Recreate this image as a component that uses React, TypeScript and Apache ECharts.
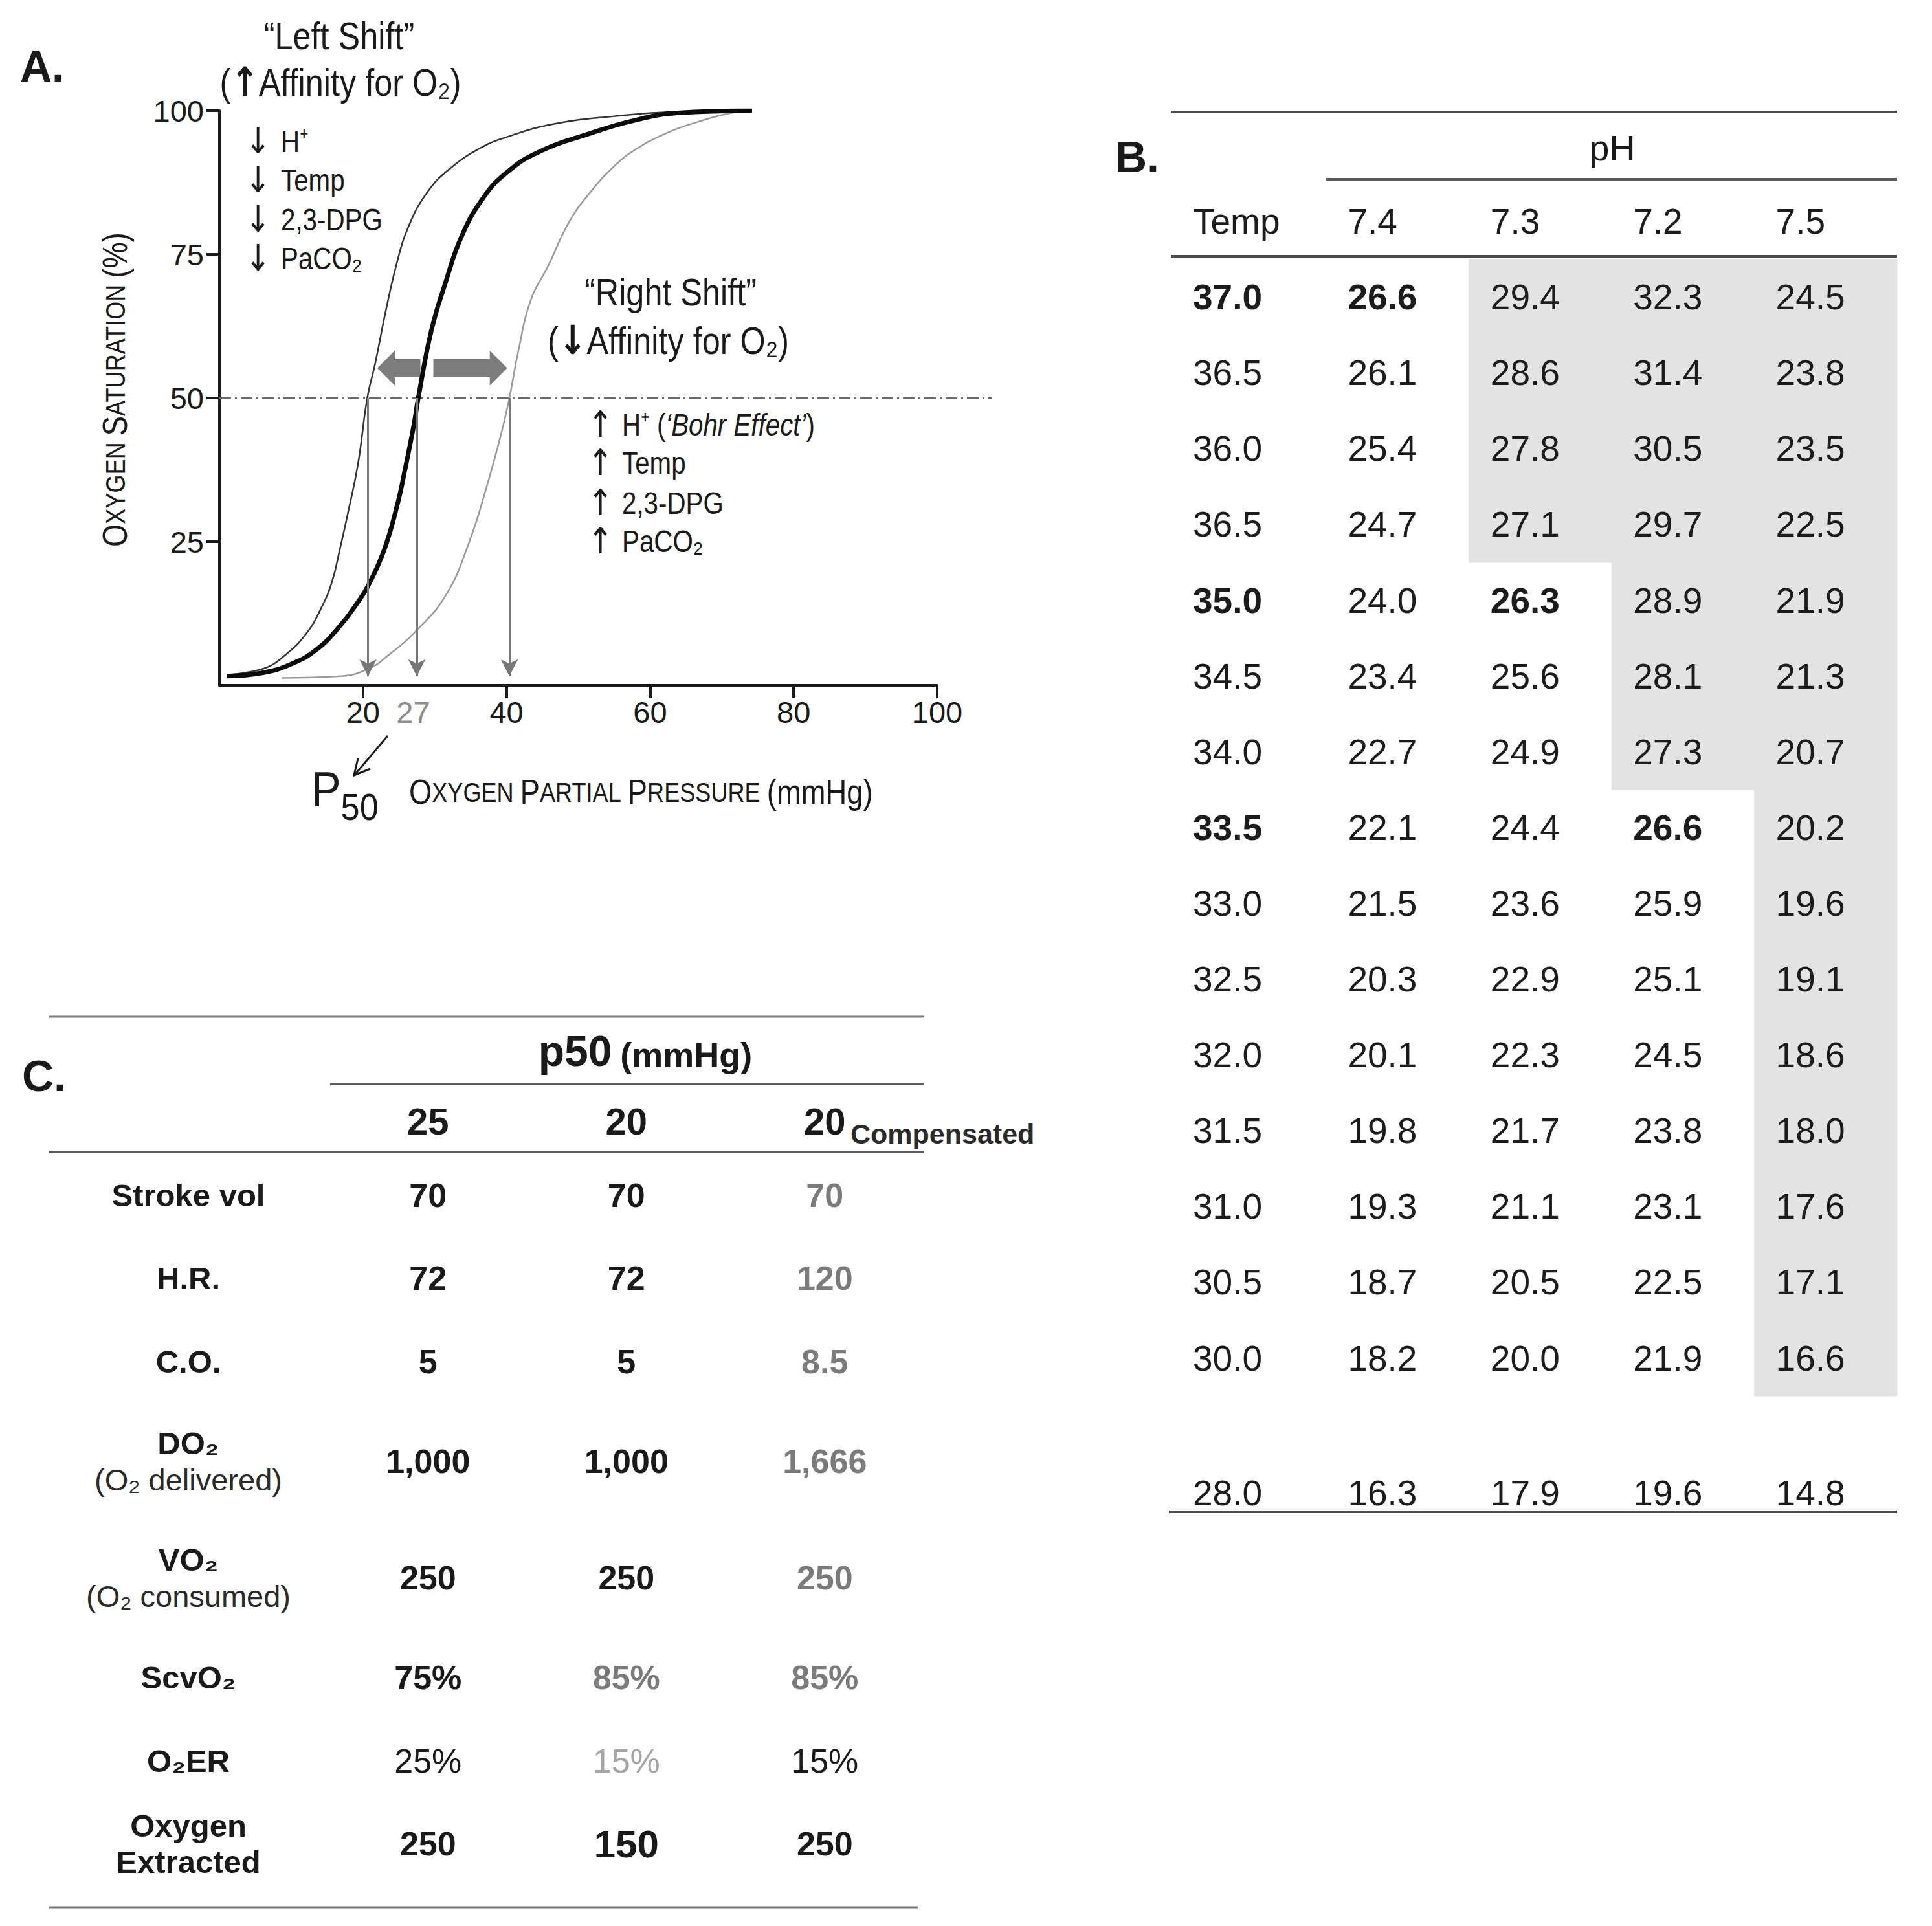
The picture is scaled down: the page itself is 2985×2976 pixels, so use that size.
import React, { useEffect, useRef } from 'react';
import * as echarts from 'echarts';

// ---------- Panel A : oxygen dissociation curves ----------
const normalPO2 = [1.0, 6.1, 10.0, 13.6, 16.9, 19.3, 20.7, 22.9, 24.7, 25.9, 27.1, 27.7, 29.5, 31.4, 33.8, 36.8, 39.8, 44.3, 51.8, 57.8, 63.8, 74.2];
const normalSat = [1.6, 2.2, 3.7, 6.3, 10.5, 14.5, 17.3, 23.4, 31.0, 37.8, 45.4, 50.0, 61.6, 69.7, 78.3, 84.9, 89.0, 92.7, 96.1, 98.3, 99.6, 100];
const leftPO2 = [1.0, 6.1, 9.1, 12.1, 14.2, 15.7, 16.8, 17.8, 19.3, 20.6, 21.7, 23.2, 24.7, 26.2, 28.9, 32.3, 36.8, 39.8, 45.8, 54.8, 63.8, 74.2];
const leftSat = [1.85, 2.9, 5.2, 9.0, 13.5, 18.1, 23.8, 29.4, 38.5, 50.0, 56.0, 65.3, 73.4, 79.4, 85.7, 90.1, 93.8, 95.3, 97.5, 99.0, 99.8, 100];
const rightPO2 = [8.7, 16.9, 20.8, 23.5, 27.5, 31.6, 34.7, 37.1, 39.2, 40.4, 41.6, 43.4, 45.8, 48.8, 51.8, 54.8, 57.8, 62.3, 66.8, 71.3, 74.2];
const rightSat = [1.3, 1.6, 2.9, 5.2, 9.6, 15.8, 24.6, 34.0, 43.5, 50.0, 57.9, 67.1, 73.0, 80.8, 86.0, 90.1, 93.1, 96.1, 98.1, 99.6, 100];
const p50DropLines = [20.7, 27.5, 40.4];
const p50Level = 50;
const dropLineEnd = 1.6;
const halfLineEndPO2 = 107.6;
const shiftLeftArrow = [28.0, 22.0];
const shiftRightArrow = [29.8, 40.1];
const shiftArrowSat = 55.2;
const xTickValues = [20, 40, 60, 80, 100];
const xLabelValues = [20, 27, 40, 60, 80, 100];
const yTickValues = [25, 50, 75, 100];
const leftShiftFactors = ['H⁺', 'Temp', '2,3-DPG', 'PaCO₂'];
const rightShiftFactors = ['H⁺', 'Temp', '2,3-DPG', 'PaCO₂'];

// ---------- Panel B : p50 by temperature and pH ----------
const tempLevels = ['37.0', '36.5', '36.0', '36.5', '35.0', '34.5', '34.0', '33.5', '33.0', '32.5', '32.0', '31.5', '31.0', '30.5', '30.0', '28.0'];
const pHLevels = ['7.4', '7.3', '7.2', '7.5'];
const p50pH74 = ['26.6', '26.1', '25.4', '24.7', '24.0', '23.4', '22.7', '22.1', '21.5', '20.3', '20.1', '19.8', '19.3', '18.7', '18.2', '16.3'];
const p50pH73 = ['29.4', '28.6', '27.8', '27.1', '26.3', '25.6', '24.9', '24.4', '23.6', '22.9', '22.3', '21.7', '21.1', '20.5', '20.0', '17.9'];
const p50pH72 = ['32.3', '31.4', '30.5', '29.7', '28.9', '28.1', '27.3', '26.6', '25.9', '25.1', '24.5', '23.8', '23.1', '22.5', '21.9', '19.6'];
const p50pH75 = ['24.5', '23.8', '23.5', '22.5', '21.9', '21.3', '20.7', '20.2', '19.6', '19.1', '18.6', '18.0', '17.6', '17.1', '16.6', '14.8'];
const shadedRowCount = [0, 4, 7, 15];
const boldTempRows = [0, 4, 7];
const boldCells = [[0, 0], [4, 1], [7, 2]];

// ---------- Panel C : oxygen delivery at p50 ----------
const p50Columns = ['25', '20', '20'];
const paramLabels = ['Stroke vol', 'H.R.', 'C.O.', 'DO₂', 'VO₂', 'ScvO₂', 'O₂ER', 'Oxygen\nExtracted'];
const paramNotes = ['', '', '', '(O₂ delivered)', '(O₂ consumed)', '', '', ''];
const valuesP50_25 = ['70', '72', '5', '1,000', '250', '75%', '25%', '250'];
const valuesP50_20 = ['70', '72', '5', '1,000', '250', '85%', '15%', '150'];
const valuesP50_20c = ['70', '120', '8.5', '1,666', '250', '85%', '15%', '250'];
const tonesP50_25 = [0, 0, 0, 0, 0, 0, 0, 0];
const tonesP50_20 = [0, 0, 0, 0, 0, 1, 2, 0];
const tonesP50_20c = [1, 1, 1, 1, 1, 1, 0, 0];
const regularRows = [6];
const enlargedCells = [[1, 7]];

const FN = "'Liberation Sans',Arial,Helvetica,sans-serif";
const FA = "'Liberation Sans',Arial,Helvetica,sans-serif";
const NARROW = 0.84;
const INK = '#1a1a1a';
const TONES = [INK, '#7b7b7b', '#a6a6a6'];

function txt(text: string, x: number, y: number, o: any = {}) {
  return {
    type: 'text', x, y, silent: true, rotation: o.rotation || 0,
    scaleX: o.sx || 1, scaleY: o.sy || 1,
    style: {
      text, fill: o.fill || INK, fontSize: o.size || 46, fontFamily: o.family || FN,
      fontWeight: o.weight || 'normal', fontStyle: o.italic ? 'italic' : 'normal',
      align: o.align || 'left', verticalAlign: o.valign || 'middle',
      textAlign: o.align || 'left', textVerticalAlign: o.valign || 'middle',
      rich: o.rich,
    },
  };
}
function rule(x1: number, x2: number, y: number, w: number, c: string) {
  return { type: 'line', silent: true, shape: { x1, y1: y, x2, y2: y }, style: { stroke: c, lineWidth: w } };
}
function rs(size: number, family: string, weight = 'normal', fill = INK, extra: any = {}) {
  return { fontSize: size, fontFamily: family, fontWeight: weight, fill, color: fill, ...extra };
}

// row heights of table C follow the number of text lines of each row label
const rowWeightC = paramNotes.map((n) => (n ? 1.4 : 1));
const rowCenterC = rowWeightC.map((w, i) => rowWeightC.slice(0, i).reduce((s, v) => s + v, 0) + w / 2);
const rowSpanC = rowWeightC.reduce((s, v) => s + v, 0);

function buildOption(): any {
  const cellsB: any[] = [];
  const shadeB: any[] = [];
  const cols = [p50pH74, p50pH73, p50pH72, p50pH75];
  const rowOf = (i: number) => (i < 15 ? i + 1 : 17);
  cellsB.push({ c: 0, r: 0, t: 'Temp', b: false });
  pHLevels.forEach((p, j) => cellsB.push({ c: j + 1, r: 0, t: p, b: false }));
  tempLevels.forEach((t, i) => {
    cellsB.push({ c: 0, r: rowOf(i), t, b: boldTempRows.includes(i), last: i === 15 });
    cols.forEach((arr, j) => {
      const bold = boldCells.some(([r, c]) => r === i && c === j);
      cellsB.push({ c: j + 1, r: rowOf(i), t: arr[i], b: bold, last: i === 15 });
      if (i < shadedRowCount[j]) shadeB.push([j + 1, rowOf(i)]);
    });
  });
  const rowKeysB = Array.from({ length: 18 }, (_, i) => 'r' + i);

  const colsC = [valuesP50_25, valuesP50_20, valuesP50_20c];
  const tonesC = [tonesP50_25, tonesP50_20, tonesP50_20c];
  const cellsC: any[] = [];
  colsC.forEach((arr, j) => arr.forEach((v, i) => cellsC.push({
    c: j, r: i, t: v, tone: tonesC[j][i], regular: regularRows.includes(i),
    big: enlargedCells.some(([c, r]) => c === j && r === i),
  })));

  const axisLine = { show: true, onZero: false, lineStyle: { color: INK, width: 4 } };
  const hidden = { show: false };

  return {
    animation: false,
    backgroundColor: '#ffffff',
    textStyle: { fontFamily: FA },
    grid: [
      { left: 339, top: 171, width: 1109, height: 888 },
      { left: 1829, top: 283.5, width: 1102, height: 2107.8 },
      { left: 508, top: 1782.7, width: 919.5, height: rowSpanC * 128.5 },
    ],
    xAxis: [
      {
        type: 'value', gridIndex: 0, min: 0, max: 100, axisLine,
        axisTick: { show: true, customValues: xTickValues, length: 20, lineStyle: { color: INK, width: 4 } },
        axisLabel: {
          customValues: xLabelValues, margin: 18, fontSize: 47, fontFamily: FN,
          color: (v: any) => (Number(v) === 27 ? '#8c8c8c' : INK),
        },
        splitLine: hidden,
      },
      { type: 'category', gridIndex: 1, data: ['Temp', ...pHLevels], show: false },
      {
        type: 'category', gridIndex: 2, data: ['p25', 'p20', 'p20c'], position: 'top',
        axisLine: hidden, axisTick: hidden, splitLine: hidden,
        axisLabel: {
          margin: 20, fontSize: 58, fontWeight: 'bold', fontFamily: FA, color: INK, lineHeight: 60,
          formatter: (_v: any, i: number) => p50Columns[i],
        },
      },
    ],
    yAxis: [
      {
        type: 'value', gridIndex: 0, min: 0, max: 100, axisLine,
        axisTick: { show: true, customValues: yTickValues, length: 20, lineStyle: { color: INK, width: 4 } },
        axisLabel: { customValues: yTickValues, margin: 24, fontSize: 47, fontFamily: FN, color: INK },
        splitLine: hidden,
      },
      { type: 'category', gridIndex: 1, data: rowKeysB, inverse: true, show: false },
      {
        type: 'value', gridIndex: 2, min: 0, max: rowSpanC, inverse: true,
        axisLine: hidden, axisTick: hidden, splitLine: hidden,
        axisLabel: {
          customValues: rowCenterC, align: 'center', margin: 217,
          formatter: (v: any) => {
            const i = rowCenterC.findIndex((c) => Math.abs(c - Number(v)) < 1e-6);
            if (i < 0) return '';
            const lines = paramLabels[i].split('\n').map((l) => '{b|' + l + '}');
            if (paramNotes[i]) lines.push('{r|' + paramNotes[i] + '}');
            return lines.join('\n');
          },
          rich: {
            b: { fontSize: 49, fontWeight: 'bold', fontFamily: FA, color: INK, lineHeight: 56 },
            r: { fontSize: 47, fontFamily: FA, color: '#2a2a2a', lineHeight: 56 },
          },
        },
      },
    ],
    series: [
      {
        type: 'line', xAxisIndex: 0, yAxisIndex: 0, name: 'left shift',
        data: leftPO2.map((x, i) => [x, leftSat[i]]), smooth: 0.45,
        showSymbol: false, symbol: 'none', lineStyle: { color: '#333333', width: 2.5 }, z: 3,
      },
      {
        type: 'line', xAxisIndex: 0, yAxisIndex: 0, name: 'right shift',
        data: rightPO2.map((x, i) => [x, rightSat[i]]), smooth: 0.45,
        showSymbol: false, symbol: 'none', lineStyle: { color: '#9a9a9a', width: 2.5 }, z: 3,
      },
      {
        type: 'line', xAxisIndex: 0, yAxisIndex: 0, name: 'normal',
        data: normalPO2.map((x, i) => [x, normalSat[i]]), smooth: 0.45,
        showSymbol: false, symbol: 'none', lineStyle: { color: '#0a0a0a', width: 7 }, z: 4,
        markLine: {
          silent: true, symbol: ['none', 'arrow'], symbolSize: [20, 26], precision: 2,
          label: { show: false },
          lineStyle: { color: '#777777', width: 3, type: 'solid' },
          data: p50DropLines.map((x) => [{ coord: [x, p50Level] }, { coord: [x, dropLineEnd] }]),
          z: 6,
        },
      },
      {
        type: 'custom', xAxisIndex: 1, yAxisIndex: 1, name: 'shading', z: 1,
        data: shadeB,
        renderItem: (_p: any, api: any) => {
          const pt = api.coord([api.value(0), api.value(1)]);
          const sz = api.size([1, 1]);
          return {
            type: 'rect',
            shape: { x: pt[0] - sz[0] / 2 - 0.5, y: pt[1] - sz[1] / 2 - 0.5, width: sz[0] + 1, height: sz[1] + 1 },
            style: { fill: '#e3e3e3' },
          };
        },
      },
      {
        type: 'custom', xAxisIndex: 1, yAxisIndex: 1, name: 'p50 table', z: 2,
        data: cellsB.map((c) => [c.c, c.r]),
        renderItem: (p: any, api: any) => {
          const cell = cellsB[p.dataIndex];
          const pt = api.coord([api.value(0), api.value(1)]);
          const sz = api.size([1, 1]);
          const left = pt[0] - sz[0] / 2 + (cell.c === 0 ? 14 : 33);
          return {
            type: 'text', x: left, y: pt[1] + (cell.last ? -26 : 0),
            style: {
              text: cell.t, fontSize: 55, fontFamily: FA, fontWeight: cell.b ? 'bold' : 'normal', fill: '#1c1c1c',
              align: 'left', verticalAlign: 'middle', textAlign: 'left', textVerticalAlign: 'middle',
            },
          };
        },
      },
      {
        type: 'custom', xAxisIndex: 2, yAxisIndex: 2, name: 'delivery table', z: 2,
        data: cellsC.map((c) => [c.c, rowCenterC[c.r]]),
        renderItem: (p: any, api: any) => {
          const cell = cellsC[p.dataIndex];
          const pt = api.coord([api.value(0), api.value(1)]);
          return {
            type: 'text', x: pt[0], y: pt[1],
            style: {
              text: cell.t, fontSize: cell.big ? 60 : 52, fontFamily: FA,
              fontWeight: cell.regular ? 'normal' : 'bold', fill: TONES[cell.tone],
              align: 'center', verticalAlign: 'middle', textAlign: 'center', textVerticalAlign: 'middle',
            },
          };
        },
      },
    ],
  };
}

function buildGraphic(chart: any): any[] {
  const g: any[] = [];
  const px = (x: number, y: number) => chart.convertToPixel({ seriesIndex: 0 }, [x, y]);

  // dash-dot 50% line
  const a = px(0, p50Level), b = px(halfLineEndPO2, p50Level);
  g.push({ type: 'line', silent: true, z: 1, shape: { x1: a[0], y1: a[1], x2: b[0], y2: b[1] }, style: { stroke: '#6a6a6a', lineWidth: 2, lineDash: [18, 6, 3, 6] } });

  // shift block arrows
  const blockArrow = (fromX: number, toX: number, y: number) => {
    const s = px(fromX, y), t = px(toX, y);
    const d = Math.sign(t[0] - s[0]);
    const bx = t[0] - d * 27;
    return {
      type: 'polygon', silent: true,
      shape: { points: [[s[0], s[1] - 14], [bx, s[1] - 14], [bx, s[1] - 27], [t[0], s[1]], [bx, s[1] + 27], [bx, s[1] + 14], [s[0], s[1] + 14]] },
      style: { fill: '#7c7c7c' },
    };
  };
  g.push(blockArrow(shiftLeftArrow[0], shiftLeftArrow[1], shiftArrowSat));
  g.push(blockArrow(shiftRightArrow[0], shiftRightArrow[1], shiftArrowSat));

  // ----- Panel A texts -----
  const N = NARROW;
  g.push(txt('A.', 31, 102, { size: 68, weight: 'bold', family: FA }));
  g.push(txt('“Left Shift”', 524, 55, { size: 60, align: 'center', sx: N }));
  g.push(txt('{p|(}{ar|↑}{p|Affinity for O₂)}', 526, 127, {
    align: 'center', sx: N, rich: { p: rs(60, FN), ar: rs(62, 'DejaVu Sans', 'bold') },
  }));
  const leftRows = [218, 278, 339, 399];
  leftShiftFactors.forEach((f, i) => {
    g.push(txt('↓', 379, leftRows[i], { size: 56, family: 'DejaVu Sans', sx: N }));
    g.push(txt(f, 434, leftRows[i], { size: 48, sx: N }));
  });
  g.push(txt('“Right Shift”', 1036, 451, { size: 60, align: 'center', sx: N }));
  g.push(txt('{p|(}{ar|↓}{p|Affinity for O₂)}', 846, 526, {
    sx: N, rich: { p: rs(60, FN), ar: rs(62, 'DejaVu Sans', 'bold') },
  }));
  const rightRows = [656, 715, 777, 836];
  rightShiftFactors.forEach((f, i) => {
    g.push(txt('↑', 908, rightRows[i], { size: 56, family: 'DejaVu Sans', sx: N }));
    if (i === 0) {
      g.push(txt('{p|' + f + ' (}{i|‘Bohr Effect’}{p|)}', 961, rightRows[i], {
        sx: N, rich: { p: rs(48, FN), i: rs(48, FN, 'normal', INK, { fontStyle: 'italic' }) },
      }));
    } else {
      g.push(txt(f, 961, rightRows[i], { size: 48, sx: N }));
    }
  });
  // axis titles (small caps)
  const sc = { L: rs(54, FN), S: rs(43, FN) };
  g.push(txt('{L|O}{S|XYGEN }{L|S}{S|ATURATION }{L|(%)}', 178, 602, { align: 'center', rotation: Math.PI / 2, sx: N, rich: sc }));
  g.push(txt('{L|O}{S|XYGEN }{L|P}{S|ARTIAL }{L|P}{S|RESSURE }{L|(mmHg)}', 632, 1224, { sx: N, rich: sc }));
  g.push(txt('{P|P}{s|50}', 481, 1229, {
    sx: 0.9,
    rich: {
      P: rs(76, FN, 'normal', INK, { lineHeight: 80, verticalAlign: 'top' }),
      s: rs(58, FN, 'normal', INK, { lineHeight: 94, verticalAlign: 'bottom' }),
    },
  }));
  g.push({ type: 'line', silent: true, shape: { x1: 599, y1: 1137, x2: 549, y2: 1196 }, style: { stroke: INK, lineWidth: 3 } });
  g.push({ type: 'polyline', silent: true, shape: { points: [[572, 1188], [547, 1198], [553, 1172]] }, style: { stroke: INK, lineWidth: 3, fill: 'none' } });

  // ----- Panel B texts & rules -----
  g.push(txt('B.', 1723, 242, { size: 68, weight: 'bold', family: FA }));
  g.push(txt('pH', 2491, 228, { size: 56, family: FA, align: 'center' }));
  g.push(rule(1809, 2931, 173, 4, '#4d4d4d'));
  g.push(rule(2049, 2931, 277, 4, '#5a5a5a'));
  g.push(rule(1809, 2931, 396, 4, '#4d4d4d'));
  g.push(rule(1806, 2931, 2336, 4, '#4d4d4d'));

  // ----- Panel C texts & rules -----
  g.push(txt('C.', 34, 1662, { size: 68, weight: 'bold', family: FA }));
  g.push(txt('{a|p50} {b|(mmHg)}', 997, 1622, {
    align: 'center', rich: { a: rs(66, FA, 'bold', INK, { verticalAlign: 'bottom', lineHeight: 70 }), b: rs(54, FA, 'bold', INK, { verticalAlign: 'bottom', lineHeight: 62 }) },
  }));
  g.push(txt('Compensated', 1314, 1752, { size: 43, weight: 'bold', family: FA, fill: '#2a2a2a' }));
  g.push(rule(76, 1428, 1571, 3, '#7a7a7a'));
  g.push(rule(510, 1428, 1675, 3, '#5a5a5a'));
  g.push(rule(76, 1428, 1780, 3, '#5a5a5a'));
  g.push(rule(76, 1418, 2947, 3, '#7a7a7a'));
  return g;
}

export default function App() {
  const ref = useRef<HTMLDivElement>(null);
  useEffect(() => {
    document.body.style.margin = '0';
    const chart = echarts.init(ref.current as HTMLDivElement, null, { renderer: 'svg' });
    chart.setOption(buildOption());
    chart.setOption({ graphic: { elements: buildGraphic(chart) } });
    return () => chart.dispose();
  }, []);
  return <div ref={ref} style={{ width: 2985, height: 2976 }} />;
}
